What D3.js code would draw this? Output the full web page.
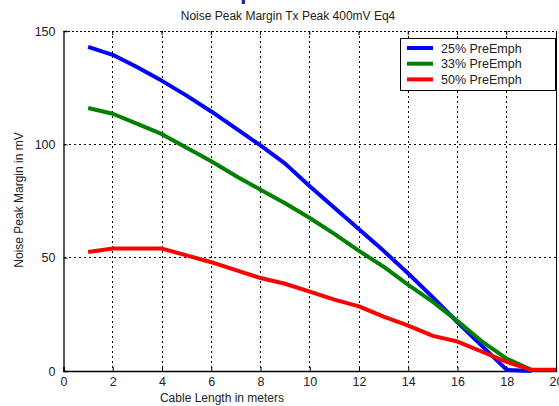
<!DOCTYPE html>
<html><head><meta charset="utf-8">
<script src="https://cdn.jsdelivr.net/npm/d3@7"></script>
<style>
html,body{margin:0;padding:0;background:#fff;}
svg{display:block;font-family:"Liberation Sans",Arial,sans-serif;}
</style></head>
<body><svg id="c" width="559" height="406"></svg>
<script>
const cableLength = [1,2,3,4,5,6,7,8,9,10,11,12,13,14,15,16,17,18,19,20];
const pre25 = [143,139.5,134,128,121.5,114.5,107,99.5,91.5,81.5,72,62.5,53,43,32.5,21.5,11,0.5,0];
const pre33 = [116,113.5,109,104.5,98.5,92.5,86,80,74,67.5,60.5,53,46,38,30.5,22,13,5.5,0.5];
const pre50 = [52.5,54,54,54,51,48,44.5,41,38.5,35,31.5,28.5,24,20,15.5,13,8.5,4,0.5,0.5];
const seriesNames = ["25% PreEmph","33% PreEmph","50% PreEmph"];
const seriesColors = ["#0000ff","#008000","#ff0000"];
const xTicks = [0,2,4,6,8,10,12,14,16,18,20];
const yTicks = [0,50,100,150];

const svg = d3.select("#c");
const L=63.5, R=556, T=31, B=371;
const x = d3.scaleLinear().domain([0,20]).range([L,R]);
const y = d3.scaleLinear().domain([0,150]).range([B,T]);

// clipped outer title descender
svg.append("text").attr("x",247).attr("y",-1).attr("text-anchor","middle")
  .attr("font-size",22).attr("font-weight","bold").attr("fill","#1a1a8a").text("p");

// grid
const g = svg.append("g");
g.selectAll(".gx").data(xTicks.filter(d=>d>0&&d<20)).enter().append("line")
  .attr("x1",d=>x(d)).attr("x2",d=>x(d)).attr("y1",T).attr("y2",B)
  .attr("stroke","#000").attr("stroke-width",1).attr("stroke-dasharray","2,3").attr("shape-rendering","crispEdges");
g.selectAll(".gy").data(yTicks.filter(d=>d>0&&d<150)).enter().append("line")
  .attr("x1",L).attr("x2",R).attr("y1",d=>y(d)).attr("y2",d=>y(d))
  .attr("stroke","#000").attr("stroke-width",1).attr("stroke-dasharray","2,3").attr("shape-rendering","crispEdges");

// frame
svg.append("line").attr("x1",L).attr("x2",R).attr("y1",T).attr("y2",T)
  .attr("stroke","#000").attr("stroke-dasharray","2,2").attr("shape-rendering","crispEdges");
svg.append("line").attr("x1",R).attr("x2",R).attr("y1",T).attr("y2",B)
  .attr("stroke","#000").attr("shape-rendering","crispEdges");

// axes
const xAxis = d3.axisBottom(x).tickValues(xTicks).tickSize(-4).tickPadding(8);
const yAxis = d3.axisLeft(y).tickValues(yTicks).tickSize(-4).tickPadding(8);
const ax = svg.append("g").attr("transform",`translate(0,${B})`).call(xAxis);
const ay = svg.append("g").attr("transform",`translate(${L},0)`).call(yAxis);
[ax,ay].forEach(a=>{
  a.select(".domain").attr("stroke","#000").attr("stroke-width",1.3);
  a.selectAll(".tick line").attr("stroke","#000");
  a.selectAll("text").attr("font-size",12.5).attr("fill","#222").attr("font-family","Liberation Sans, Arial, sans-serif");
});
ax.selectAll("text").attr("dy","0.55em");
// top ticks
svg.selectAll(".tt").data(xTicks.filter(d=>d>0&&d<20)).enter().append("line")
  .attr("x1",d=>x(d)).attr("x2",d=>x(d)).attr("y1",T).attr("y2",T+4).attr("stroke","#000");

// lines
const allSeries=[pre25,pre33,pre50];
const line = d3.line().x((d,i)=>x(cableLength[i])).y(d=>y(d));
const plot = svg.append("g");
allSeries.forEach((s,k)=>{
  plot.append("path").datum(s).attr("d",line).attr("fill","none")
    .attr("stroke",seriesColors[k]).attr("stroke-width",4).attr("stroke-linejoin","round");
});

// title and labels
svg.append("text").attr("x",288).attr("y",20).attr("text-anchor","middle")
  .attr("font-size",12).attr("fill","#222").text("Noise Peak Margin Tx Peak 400mV Eq4");
svg.append("text").attr("x",222).attr("y",402).attr("text-anchor","middle")
  .attr("font-size",12).attr("fill","#222").text("Cable Length in meters");
svg.append("text").attr("transform","translate(23,200) rotate(-90)").attr("text-anchor","middle")
  .attr("font-size",12).attr("fill","#222").text("Noise Peak Margin in mV");

// legend
const lg = svg.append("g");
lg.append("rect").attr("x",400.5).attr("y",38.5).attr("width",155).attr("height",52)
  .attr("fill","#fff").attr("stroke","#000").attr("stroke-width",1);
seriesNames.forEach((n,k)=>{
  const yy = 48 + k*15.7;
  lg.append("line").attr("x1",407).attr("x2",433).attr("y1",yy).attr("y2",yy)
    .attr("stroke",seriesColors[k]).attr("stroke-width",4);
  lg.append("text").attr("x",441).attr("y",yy+4.5).attr("font-size",12.5).attr("fill","#222").text(n);
});
</script></body></html>
